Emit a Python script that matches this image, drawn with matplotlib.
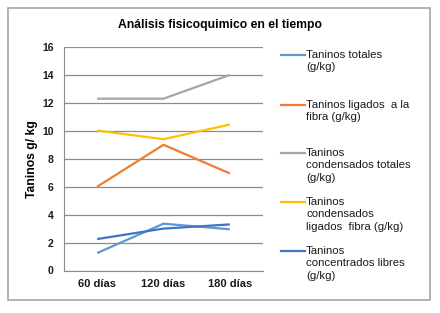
import matplotlib.pyplot as plt
from matplotlib.patches import Rectangle
from matplotlib.lines import Line2D

plt.rcParams['font.family'] = ['Liberation Sans', 'DejaVu Sans']

# datos
dias = ['60 días', '120 días', '180 días']
taninos_totales = [1.25, 3.35, 2.95]
taninos_ligados = [6.0, 9.0, 6.95]
condensados_totales = [12.3, 12.3, 14.0]
condensados_ligados = [10.02, 9.4, 10.45]
concentrados_libres = [2.25, 3.0, 3.3]

series = [
    ('Taninos totales\n(g/kg)', taninos_totales, '#5B9BD5'),
    ('Taninos ligados  a la\nfibra (g/kg)', taninos_ligados, '#ED7D31'),
    ('Taninos\ncondensados totales\n(g/kg)', condensados_totales, '#A5A5A5'),
    ('Taninos\ncondensados\nligados  fibra (g/kg)', condensados_ligados, '#FFC000'),
    ('Taninos\nconcentrados libres\n(g/kg)', concentrados_libres, '#4472C4'),
]

fig = plt.figure(figsize=(4.4, 3.13), dpi=100)
W, H = 440, 313

# marco exterior
fig.patches.append(Rectangle((8 / W, 1 - 300 / H), 422 / W, 292 / H,
                             transform=fig.transFigure, fill=False,
                             edgecolor='#a6a6a6', linewidth=1.2))

ax = fig.add_axes([64 / W, 1 - 270.5 / H, 199 / W, 223.5 / H])
x = [0.5, 1.5, 2.5]
for label, vals, color in series:
    ax.plot(x, vals, color=color, linewidth=1.6, solid_capstyle='butt')

ax.set_xlim(0, 3)
ax.set_ylim(0, 16)
ax.set_yticks(range(0, 17, 2))
ax.set_xticks(x)
ax.set_xticklabels(dias, fontsize=8, fontweight='bold')
for t in ax.get_yticklabels():
    t.set_fontsize(7.5)
    t.set_fontweight('bold')
ax.tick_params(length=0, colors='#1a1a1a')
ax.tick_params(axis='y', pad=7.5)
ax.tick_params(axis='x', pad=6)
ax.yaxis.grid(True, color='#8c8c8c', linewidth=0.9)
ax.set_axisbelow(True)
for s in ['top', 'right']:
    ax.spines[s].set_visible(False)
ax.spines['left'].set_color('#8c8c8c')
ax.spines['bottom'].set_color('#8c8c8c')

ax.set_ylabel('Taninos g/ kg', fontsize=8.7, fontweight='bold', labelpad=3)
fig.text(220 / W, 1 - 25 / H, 'Análisis fisicoquimico en el tiempo',
         ha='center', va='center', fontsize=8.7, fontweight='bold')

# leyenda a mano
ys = [55, 105, 153, 202, 251]
for (label, vals, color), yy in zip(series, ys):
    fig.add_artist(Line2D([281 / W, 305 / W], [1 - yy / H, 1 - yy / H],
                          color=color, linewidth=1.6,
                          transform=fig.transFigure))
    fig.text(306 / W, 1 - (yy - 5) / H, label, ha='left', va='top',
             fontsize=8.2, linespacing=1.3, color='#1a1a1a')

fig.savefig('out.png', dpi=100)
